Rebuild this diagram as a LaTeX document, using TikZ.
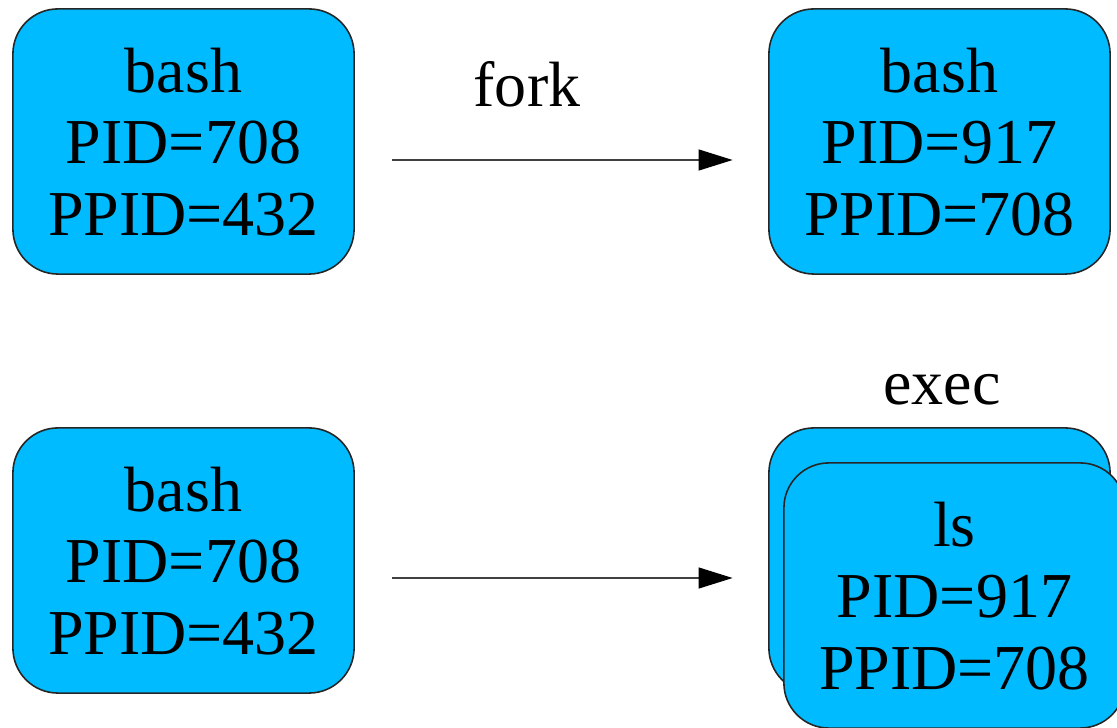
\documentclass[tikz,border=0pt]{standalone}
\usepackage{fontspec}
\setmainfont{Liberation Serif}
\usetikzlibrary{arrows.meta}
\definecolor{procfill}{RGB}{0,187,255}
\tikzset{
  proc/.style={draw=black!85, line width=0.45pt, fill=procfill,
    rounded corners=0.45cm, minimum width=3.41cm, minimum height=2.65cm,
    align=center, inner sep=0pt, text depth=0pt,
    font=\fontsize{18.2}{20.3}\selectfont},
  flow/.style={draw=black!75, line width=0.35pt,
    -{Triangle[length=0.34cm,width=0.21cm,black]}},
  lbl/.style={anchor=base, inner sep=0pt, font=\fontsize{18.2}{20.3}\selectfont}
}
\begin{document}
\begin{tikzpicture}[x=0.01cm,y=-0.01cm]
  \useasboundingbox (0,0) rectangle (1117,728);
  \clip (0,0) rectangle (1117,728);
  % fork: parent and child
  \node[proc] (parent1) at (183.5,141.5) {bash\\PID=708\\PPID=432};
  \node[proc] (child1)  at (939.5,141.5) {bash\\PID=917\\PPID=708};
  % exec: parent and replaced child image
  \node[proc] (parent2) at (183.5,560.5) {bash\\PID=708\\PPID=432};
  \node[proc] (child2)  at (939.5,560.5) {};
  \node[proc] (ls)      at (954.5,595.5) {ls\\PID=917\\PPID=708};
  % transitions
  \draw[flow, shorten <=0.37cm, shorten >=0.355cm]
    ([yshift=-0.185cm]parent1.east) -- ([yshift=-0.185cm]child1.west);
  \draw[flow, shorten <=0.37cm, shorten >=0.355cm]
    ([yshift=-0.175cm]parent2.east) -- ([yshift=-0.175cm]child2.west);
  \node[lbl] (fork) at (527,107) {fork};
  \node[lbl] (exec) at (942,405) {exec};
\end{tikzpicture}
\end{document}
